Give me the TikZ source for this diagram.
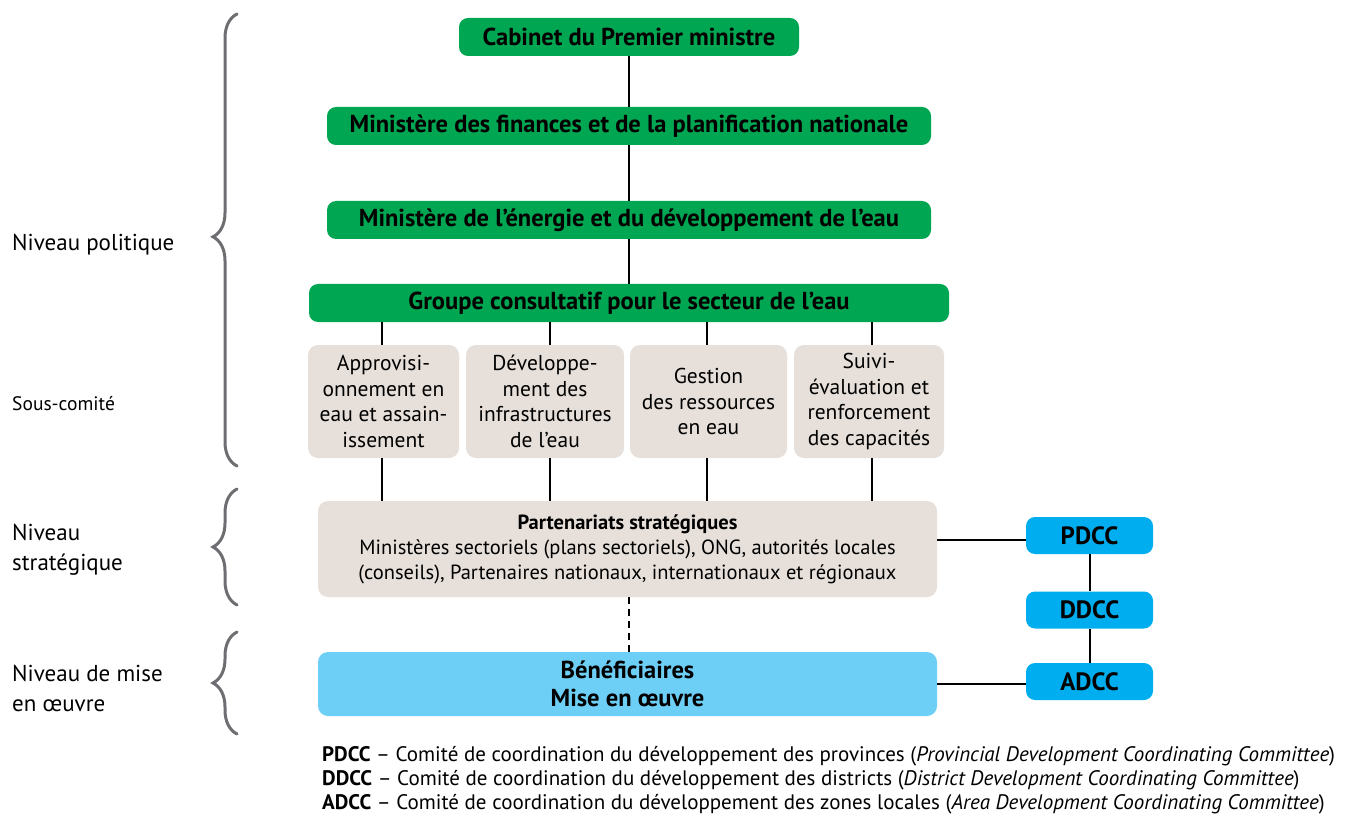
\documentclass[tikz,border=0pt]{standalone}
\usepackage{fontspec}
\setmainfont{PT Sans}
\usetikzlibrary{positioning, decorations.pathreplacing}

\definecolor{govgreen}{RGB}{0,166,81}
\definecolor{sandbeige}{RGB}{231,224,218}
\definecolor{benefblue}{RGB}{109,207,246}
\definecolor{ccblue}{RGB}{0,174,239}
\definecolor{bracegrey}{RGB}{109,110,113}

\tikzset{
  greenbox/.style={fill=govgreen, rounded corners=9pt, minimum height=38pt, inner sep=0pt,
    font=\bfseries\fontsize{24.5}{28}\selectfont},
  subbox/.style={fill=sandbeige, rounded corners=10pt, minimum height=113pt, inner sep=0pt,
    align=center, font=\fontsize{21.5}{25.5}\selectfont},
  widebox/.style={rounded corners=10pt, minimum width=619pt, inner sep=0pt, align=center},
  ccbox/.style={fill=ccblue, rounded corners=9pt, minimum width=127pt, minimum height=37pt,
    inner sep=0pt, font=\bfseries\fontsize{25}{28}\selectfont},
  link/.style={line width=2pt},
  levelbrace/.style={draw=bracegrey, line width=3pt, line cap=round,
    decorate, decoration={brace, amplitude=24pt, aspect=#1}},
  levellabel/.style={anchor=west, align=left, inner sep=0pt, font=\fontsize{23}{30}\selectfont}
}

\begin{document}
\begin{tikzpicture}[x=1pt, y=-1pt]
  \useasboundingbox (0,0) rectangle (1346,818);

  % green chain
  \node[greenbox, minimum width=340pt] (cabinet) at (629,37) {Cabinet du Premier ministre};
  \node[greenbox, minimum width=604pt] (finances) at (629,126) {Ministère des finances et de la planification nationale};
  \node[greenbox, minimum width=604pt] (energie) at (629,220) {Ministère de l’énergie et du développement de l’eau};
  \node[greenbox, minimum width=640pt] (groupe) at (629,303) {Groupe consultatif pour le secteur de l’eau};

  % sub-committees
  \node[subbox, minimum width=151pt] (approv) at (383.5,401.5) {Approvisi-\\onnement en\\eau et assain-\\issement};
  \node[subbox, minimum width=158pt] (infra) at (545,401.5) {Développe-\\ment des\\infrastructures\\de l’eau};
  \node[subbox, minimum width=157pt] (gestion) at (708.5,401.5) {Gestion\\des ressources\\en eau};
  \node[subbox, minimum width=150pt] (suivi) at (869,401.5) {Suivi-\\évaluation et\\renforcement\\des capacités};

  % strategic and implementation
  \node[widebox, fill=sandbeige, minimum height=96pt, font=\fontsize{20.5}{25}\selectfont] (partenariats) at (627.5,549)
    {\textbf{Partenariats stratégiques}\\Ministères sectoriels (plans sectoriels), ONG, autorités locales\\(conseils), Partenaires nationaux, internationaux et régionaux};
  \node[widebox, fill=benefblue, minimum height=64pt, font=\bfseries\fontsize{24.5}{28}\selectfont] (benef) at (627.5,684)
    {Bénéficiaires\\Mise en œuvre};

  % coordinating committees
  \node[ccbox] (pdcc) at (1089.5,535.5) {PDCC};
  \node[ccbox] (ddcc) at (1089.5,610) {DDCC};
  \node[ccbox] (adcc) at (1089.5,681.5) {ADCC};

  % connectors
  \draw[link] (cabinet.south) -- (finances.north);
  \draw[link] (finances.south) -- (energie.north);
  \draw[link] (energie.south) -- (groupe.north);
  \foreach \sub/\dx in {approv/-1.5, infra/5, gestion/-1.5, suivi/3} {
    \draw[link] ([xshift=\dx pt]\sub.north) -- ([xshift=\dx pt]\sub.north |- groupe.south);
    \draw[link] ([xshift=\dx pt]\sub.south) -- ([xshift=\dx pt]\sub.south |- partenariats.north);
  }
  \draw[link, dash pattern=on 7pt off 5pt] ([xshift=1.5pt]partenariats.south) -- ([xshift=1.5pt]benef.north);
  \draw[link] ([yshift=-4.5pt]pdcc.west) -- ([yshift=-4.5pt]pdcc.west -| partenariats.east);
  \draw[link] (pdcc) -- (ddcc);
  \draw[link] (ddcc) -- (adcc);
  \draw[link] ([yshift=-2.5pt]adcc.west) -- ([yshift=-2.5pt]adcc.west -| benef.east);

  % level braces
  \draw[levelbrace=0.507] (237,466) -- (237,14);
  \draw[levelbrace=0.5] (237,605) -- (237,489);
  \draw[levelbrace=0.5] (237,734) -- (237,632);

  % level labels
  \node[levellabel] (politique) at (12,245) {Niveau politique};
  \node[levellabel, font=\fontsize{19.5}{24}\selectfont] (souscomite) at (12,404) {Sous-comité};
  \node[levellabel] (strategique) at (12,550) {Niveau\\stratégique};
  \node[levellabel] (miseenoeuvre) at (12,688) {Niveau de mise\\en œuvre};

  % legend
  \node[anchor=north west, align=left, inner sep=0pt, font=\fontsize{21}{24}\selectfont] (legende) at (322,746)
    {\textbf{PDCC} – Comité de coordination du développement des provinces (\textit{Provincial Development Coordinating Committee})\\
     \textbf{DDCC} – Comité de coordination du développement des districts (\textit{District Development Coordinating Committee})\\
     \textbf{ADCC} – Comité de coordination du développement des zones locales (\textit{Area Development Coordinating Committee})};
\end{tikzpicture}
\end{document}
